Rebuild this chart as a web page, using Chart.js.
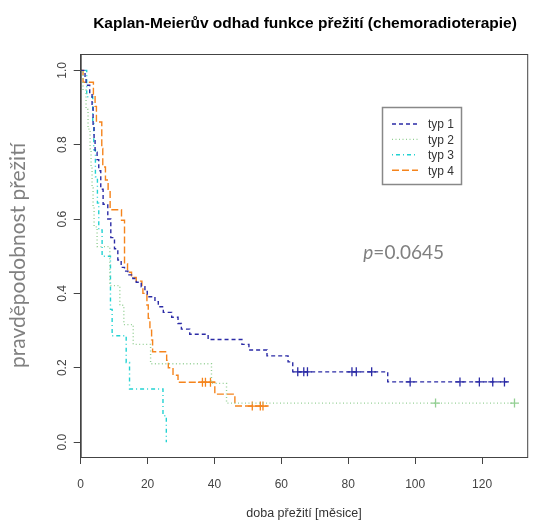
<!DOCTYPE html>
<html lang="cs">
<head>
    <meta charset="UTF-8">
    <title>Kaplan-Meierův odhad</title>
    <script src="https://cdn.jsdelivr.net/npm/chart.js"></script>
    <style>
        html, body { margin: 0; padding: 0; background: #fff; }
    </style>
</head>
<body>
    <canvas id="kmChart" width="533" height="521"></canvas>

    <script>
        const groupNames = ['typ 1', 'typ 2', 'typ 3', 'typ 4']

        // typ 1
        const typ1Times = [0, 1.3, 1.6, 2.7, 3.4, 3.7, 4.0, 4.3, 4.9, 5.4, 6.0, 6.7, 8.1, 9.0, 10.1, 11.1, 12.1, 13.1, 14.1, 15.6, 16.6, 18.1, 19.2, 19.9, 22.2, 23.2, 24.7, 27.2, 29.1, 30.1, 32.6, 38.1, 48.2, 50.3, 55.7, 62.0, 63.4, 91.8]
        const typ1Surv = [1, 0.98, 0.96, 0.94, 0.90, 0.85, 0.82, 0.78, 0.76, 0.73, 0.68, 0.64, 0.60, 0.55, 0.52, 0.49, 0.47, 0.46, 0.45, 0.44, 0.43, 0.418, 0.405, 0.391, 0.378, 0.364, 0.349, 0.336, 0.319, 0.304, 0.29, 0.276, 0.263, 0.248, 0.232, 0.216, 0.189, 0.162]
        const typ1End = 127.6
        const typ1Censor = [64.9, 66.7, 67.8, 81.1, 82.4, 87.0, 98.5, 113.4, 119.2, 123.2, 126.7]

        // typ 2
        const typ2Times = [0, 0.7, 1.6, 2.2, 2.8, 3.1, 3.4, 3.7, 4.0, 4.9, 8.7, 11.7, 12.9, 15.7, 20.9, 39.1, 43.6]
        const typ2Surv = [1, 0.947, 0.895, 0.842, 0.789, 0.737, 0.684, 0.632, 0.579, 0.526, 0.421, 0.368, 0.316, 0.263, 0.211, 0.158, 0.105]
        const typ2End = 129.7
        const typ2Censor = [106.1, 129.7]

        // typ 3
        const typ3Times = [0, 1.8, 3.6, 3.9, 4.4, 5.0, 5.4, 6.4, 8.9, 9.4, 13.6, 14.6, 24.6, 25.6]
        const typ3Surv = [1, 0.929, 0.857, 0.786, 0.714, 0.643, 0.571, 0.5, 0.357, 0.286, 0.214, 0.143, 0.071, 0]
        const typ3End = 25.6
        const typ3Censor = []

        // typ 4
        const typ4Times = [0, 0.7, 3.8, 4.3, 4.7, 6.3, 6.6, 7.4, 8.2, 8.8, 12.2, 13.1, 14.0, 15.2, 16.6, 18.3, 18.6, 19.8, 20.2, 20.7, 21.2, 21.5, 25.7, 26.2, 27.6, 29.1, 40.1, 46.1]
        const typ4Surv = [1, 0.968, 0.935, 0.903, 0.861, 0.79, 0.74, 0.705, 0.68, 0.625, 0.597, 0.48, 0.457, 0.443, 0.433, 0.415, 0.40, 0.369, 0.333, 0.301, 0.275, 0.243, 0.22, 0.2, 0.18, 0.161, 0.129, 0.097]
        const typ4End = 56.2
        const typ4Censor = [36.4, 37.3, 38.8, 51.3, 53.7, 54.5]

        const xTicks = [0, 20, 40, 60, 80, 100, 120]
        const yTicks = [0, 0.2, 0.4, 0.6, 0.8, 1.0]
        const pText = '0.0645'

        const colors = ['#2b2ba6', '#93cf93', '#22d2d2', '#f5841c']
        const dashes = [[4, 3], [1, 2.5], [1, 3, 4, 3], [7, 3]]

        const curves = [
            [typ1Times, typ1Surv, typ1End, typ1Censor],
            [typ2Times, typ2Surv, typ2End, typ2Censor],
            [typ3Times, typ3Surv, typ3End, typ3Censor],
            [typ4Times, typ4Surv, typ4End, typ4Censor]
        ]

        const survAt = (times, surv, t) => {
            let s = surv[0]
            for (let i = 0; i < times.length; i++) {
                if (times[i] <= t) s = surv[i]
            }
            return s
        }

        const datasets = []
        curves.forEach(([times, surv, end], i) => {
            const pts = times.map((t, j) => ({ x: t, y: surv[j] }))
            pts.push({ x: end, y: surv[surv.length - 1] })
            datasets.push({
                label: groupNames[i],
                data: pts,
                stepped: true,
                borderColor: colors[i],
                borderWidth: 1.4,
                borderDash: dashes[i],
                pointRadius: 0,
                fill: false
            })
        })
        curves.forEach(([times, surv, end, cens], i) => {
            datasets.push({
                label: groupNames[i] + ' cens',
                data: cens.map(t => ({ x: t, y: survAt(times, surv, t) })),
                showLine: false,
                pointStyle: 'cross',
                pointRadius: 4.5,
                pointBorderWidth: 1.3,
                borderColor: colors[i],
                backgroundColor: colors[i]
            })
        })

        // frame, title, legend and p value
        const extras = {
            id: 'extras',
            afterDraw(chart) {
                const ctx = chart.ctx
                const a = chart.chartArea
                const xs = chart.scales.x
                const ys = chart.scales.y
                ctx.save()
                ctx.strokeStyle = '#444'
                ctx.lineWidth = 1
                ctx.strokeRect(a.left + 0.5, a.top + 0.5, a.right - a.left, a.bottom - a.top)

                ctx.fillStyle = '#000'
                ctx.font = 'bold 15.5px "Liberation Sans", Arial, sans-serif'
                ctx.textAlign = 'center'
                ctx.textBaseline = 'middle'
                ctx.fillText('Kaplan-Meierův odhad funkce přežití (chemoradioterapie)', 305, 24)

                // legend
                ctx.strokeStyle = '#888'
                ctx.lineWidth = 1.5
                ctx.strokeRect(382.5, 107.5, 79, 77)
                ctx.font = '12px "Liberation Sans", Arial, sans-serif'
                ctx.textAlign = 'left'
                groupNames.forEach((name, i) => {
                    const y = 124 + i * 15.4
                    ctx.strokeStyle = colors[i]
                    ctx.lineWidth = 1.4
                    ctx.setLineDash(dashes[i])
                    ctx.beginPath()
                    ctx.moveTo(392, y)
                    ctx.lineTo(418, y)
                    ctx.stroke()
                    ctx.setLineDash([])
                    ctx.fillStyle = '#333'
                    ctx.fillText(name, 428, y + 1)
                })

                // p value
                const px = xs.getPixelForValue(84.5)
                const py = ys.getPixelForValue(0.51)
                ctx.fillStyle = '#808080'
                ctx.font = 'italic 19px Lato, sans-serif'
                ctx.fillText('p', px, py)
                const w = ctx.measureText('p').width
                ctx.font = '19px Lato, sans-serif'
                ctx.fillText('=' + pText, px + w, py)
                ctx.restore()
            }
        }

        const tickFont = { family: '"Liberation Sans", Arial, sans-serif', size: 12 }

        new Chart(document.getElementById('kmChart'), {
            type: 'line',
            data: { datasets: datasets },
            options: {
                responsive: false,
                animation: false,
                devicePixelRatio: 1,
                layout: { padding: { top: 54, right: 5, left: 0, bottom: 0 } },
                plugins: {
                    legend: { display: false },
                    tooltip: { enabled: false },
                    title: { display: false }
                },
                scales: {
                    x: {
                        type: 'linear',
                        min: 0,
                        max: 133.5,
                        afterBuildTicks: s => { s.ticks = xTicks.map(v => ({ value: v })) },
                        afterFit: s => { s.height = 64 },
                        grid: { drawOnChartArea: false, drawTicks: true, tickLength: 7, color: '#444' },
                        border: { display: true, color: '#444' },
                        ticks: { color: '#444', font: tickFont, padding: 13, maxRotation: 0 },
                        title: {
                            display: true,
                            text: 'doba přežití [měsice]',
                            color: '#333',
                            font: { family: '"Liberation Sans", Arial, sans-serif', size: 12.5 },
                            padding: { top: 0, bottom: 0 }
                        }
                    },
                    y: {
                        type: 'linear',
                        min: -0.04,
                        max: 1.044,
                        afterBuildTicks: s => { s.ticks = yTicks.map(v => ({ value: v })) },
                        afterFit: s => { s.width = 80.7 },
                        grid: { drawOnChartArea: false, drawTicks: true, tickLength: 7, color: '#444' },
                        border: { display: true, color: '#444' },
                        ticks: {
                            color: '#444',
                            font: tickFont,
                            padding: 3,
                            minRotation: 90,
                            maxRotation: 90,
                            crossAlign: 'center',
                            callback: v => v.toFixed(1)
                        },
                        title: {
                            display: true,
                            text: 'pravděpodobnost přežití',
                            color: '#808080',
                            font: { family: 'Lato, sans-serif', size: 21 },
                            padding: { top: 6, bottom: 0 }
                        }
                    }
                }
            },
            plugins: [extras]
        })
    </script>
</body>
</html>
